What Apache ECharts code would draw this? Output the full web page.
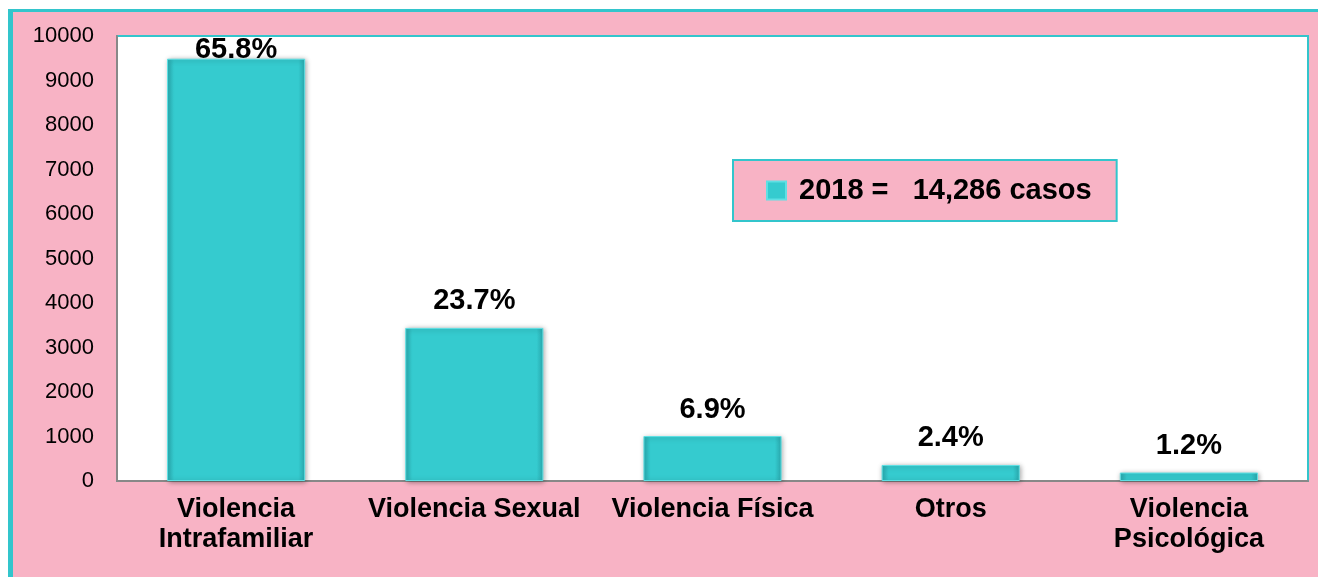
<!DOCTYPE html>
<html>
<head>
<meta charset="utf-8">
<script src="https://cdn.jsdelivr.net/npm/echarts@6/dist/echarts.min.js"></script>
<style>
  html, body { margin: 0; padding: 0; background: #ffffff; width: 1318px; height: 577px; overflow: hidden; }
  #frame { position: absolute; left: 8px; top: 9px; width: 1310px; height: 568px; box-sizing: border-box;
           background: #F8B3C5; border-left: 5px solid #33C5CC; border-top: 3px solid #33C5CC; }
  #chart { position: absolute; left: 0; top: 0; width: 1318px; height: 577px; }
</style>
</head>
<body>
<div id="frame"></div>
<div id="chart"></div>
<script>
// ---- data ----
const categories = ['Violencia\nIntrafamiliar', 'Violencia Sexual', 'Violencia Física', 'Otros', 'Violencia\nPsicológica'];
const values = [9490, 3440, 1010, 360, 190];
const percentLabels = ['65.8%', '23.7%', '6.9%', '2.4%', '1.2%'];
const seriesName = '2018';
const legendText = '2018 =   14,286 casos';
const yTicks = { min: 0, max: 10000, interval: 1000 };

const teal = '#33C5CC';
const font = 'Liberation Sans, Arial, sans-serif';
const barGradient = new echarts.graphic.LinearGradient(0, 0, 1, 0, [
  { offset: 0, color: '#2AADB2' },
  { offset: 0.05, color: '#35CBCF' },
  { offset: 0.95, color: '#35CBCF' },
  { offset: 1, color: '#2AADB2' }
]);

const data = values.map((v, i) => {
  const item = { value: v };
  if (i === 0) item.label = { distance: -6 };
  return item;
});

const chart = echarts.init(document.getElementById('chart'), null, { renderer: 'canvas' });
chart.setOption({
  backgroundColor: 'transparent',
  animation: false,
  grid: {
    left: 117, right: 10, top: 36, bottom: 96,
    show: true, backgroundColor: '#ffffff', borderColor: teal, borderWidth: 2
  },
  legend: {
    show: true,
    left: 733, top: 160,
    data: [seriesName],
    formatter: () => legendText,
    backgroundColor: '#F8B3C5',
    borderColor: teal, borderWidth: 2, borderRadius: 0,
    padding: [16, 25, 16, 33],
    icon: 'rect',
    itemWidth: 19, itemHeight: 18,
    textStyle: { fontFamily: font, fontWeight: 'bold', fontSize: 29, color: '#000', padding: [0, 0, 0, 8] }
  },
  xAxis: {
    type: 'category',
    data: categories,
    axisLine: { show: true, lineStyle: { color: '#888888', width: 2 } },
    axisTick: { show: false },
    axisLabel: {
      interval: 0, margin: 14, color: '#000',
      fontFamily: font, fontWeight: 'bold', fontSize: 27, lineHeight: 30
    },
    splitLine: { show: false }
  },
  yAxis: {
    type: 'value',
    min: yTicks.min, max: yTicks.max, interval: yTicks.interval,
    axisLine: { show: true, lineStyle: { color: '#888888', width: 2 } },
    axisTick: { show: false },
    splitLine: { show: false },
    axisLabel: { margin: 23, color: '#000', fontFamily: font, fontSize: 22, formatter: (v) => String(v) }
  },
  series: [{
    name: seriesName,
    type: 'bar',
    data: data,
    barCategoryGap: '42%',
    itemStyle: {
      color: barGradient,
      borderColor: '#5FE0E4', borderWidth: 1,
      shadowColor: 'rgba(0,0,0,0.35)', shadowBlur: 5, shadowOffsetX: 1, shadowOffsetY: 1
    },
    label: {
      show: true, position: 'top', distance: 12,
      formatter: (p) => percentLabels[p.dataIndex],
      color: '#000', fontFamily: font, fontWeight: 'bold', fontSize: 29
    }
  }]
});
</script>
</body>
</html>
